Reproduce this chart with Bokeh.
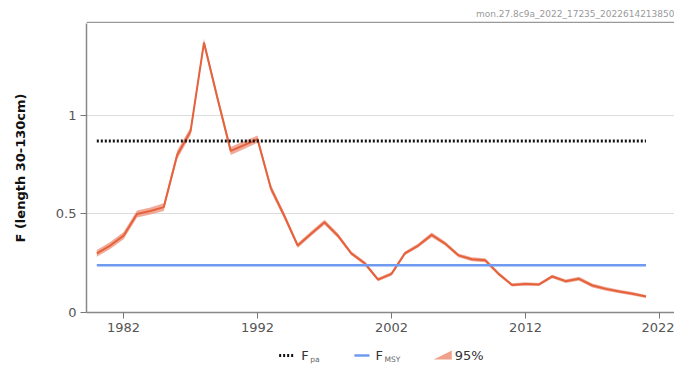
from bokeh.plotting import figure
from bokeh.models import Range1d, FixedTicker, ColumnDataSource
from bokeh.layouts import column
from bokeh.core.properties import value
from bokeh.embed import file_html
from bokeh.resources import INLINE

years = list(range(1980, 2022))
f_values = [0.30, 0.34, 0.39, 0.50, 0.515, 0.535, 0.80, 0.92, 1.37, 1.09,
            0.82, 0.85, 0.88, 0.63, 0.49, 0.34, 0.40, 0.458, 0.39, 0.30,
            0.25, 0.167, 0.196, 0.30, 0.34, 0.394, 0.35, 0.29, 0.27, 0.265,
            0.196, 0.14, 0.145, 0.142, 0.183, 0.159, 0.171, 0.137, 0.12, 0.107,
            0.095, 0.081]
f_low = [0.283, 0.322, 0.372, 0.482, 0.497, 0.515, 0.778, 0.9, 1.35, 1.07,
         0.80, 0.83, 0.862, 0.612, 0.474, 0.328, 0.388, 0.445, 0.378, 0.29,
         0.24, 0.158, 0.187, 0.29, 0.33, 0.382, 0.34, 0.28, 0.26, 0.255,
         0.187, 0.132, 0.137, 0.134, 0.174, 0.15, 0.161, 0.127, 0.11, 0.098,
         0.086, 0.073]
f_high = [0.317, 0.358, 0.408, 0.518, 0.533, 0.555, 0.822, 0.94, 1.39, 1.11,
          0.84, 0.87, 0.898, 0.648, 0.506, 0.352, 0.412, 0.471, 0.402, 0.31,
          0.26, 0.176, 0.205, 0.31, 0.35, 0.406, 0.36, 0.30, 0.28, 0.275,
          0.205, 0.148, 0.153, 0.15, 0.192, 0.168, 0.181, 0.147, 0.13, 0.116,
          0.104, 0.089]
f_pa = 0.87
f_msy = 0.24
x_ticks = [1982, 1992, 2002, 2012, 2022]
y_ticks = [0, 0.5, 1]
y_tick_labels = ["0", "0.5", "1"]
y_title = "F (length 30-130cm)"
watermark = "mon.27.8c9a_2022_17235_2022614213850"
legend_labels = ["F", "pa", "F", "MSY", "95%"]

FONT = "DejaVu Sans"
LINE_COLOR = "#E4623C"
BAND_COLOR = "#EE8F78"
BLUE = "#6E9AF0"
GRAY_TEXT = "#555555"

W = 674
H_TOP = 23
H_MAIN = 315
H_LEG = 366 - H_TOP - H_MAIN
FRAME_BOTTOM = 312 - H_TOP
# the column aligns every child's frame with the main plot's frame (86..672)
FRAME_L, FRAME_R = 86, 672


def blank_fig(h):
    f = figure(width=W, height=h, output_backend="svg", toolbar_location=None,
               x_range=Range1d(FRAME_L, FRAME_R), y_range=Range1d(h, 0),
               min_border=0, min_border_left=0, min_border_right=0,
               min_border_top=0, min_border_bottom=0)
    f.axis.visible = False
    f.grid.visible = False
    f.outline_line_color = None
    return f


# watermark strip, with the frame's top border at its bottom
top = blank_fig(H_TOP)
top.text(x=[FRAME_R], y=[13], text=[watermark], text_font=value(FONT),
         text_font_size=value("9px"), text_color="#9a9a9a",
         text_baseline="middle", text_align="right")
top.line(x=[FRAME_L, FRAME_R], y=[22, 22], line_color="#999999", line_width=1.5)

p = figure(width=W, height=H_MAIN, output_backend="svg", toolbar_location=None,
           x_range=Range1d(1979.23, 2023.13), y_range=Range1d(0, 1.467),
           min_border_left=FRAME_L, min_border_right=0, min_border_top=0,
           min_border_bottom=H_MAIN - FRAME_BOTTOM)
p.outline_line_color = None
p.background_fill_color = "white"
p.border_fill_color = "white"

p.xaxis.ticker = FixedTicker(ticks=x_ticks)
p.yaxis.ticker = FixedTicker(ticks=y_ticks)
p.yaxis.major_label_overrides = {t: l for t, l in zip(y_ticks, y_tick_labels)}
for ax in (p.xaxis[0], p.yaxis[0]):
    ax.axis_line_color = "#888888"
    ax.axis_line_width = 1.5
    ax.major_tick_line_color = "#777777"
    ax.major_tick_out = 6
    ax.major_tick_in = 0
    ax.minor_tick_line_color = None
    ax.major_label_text_font = FONT
    ax.major_label_text_font_size = "13px"
    ax.major_label_text_color = GRAY_TEXT
p.xaxis.major_label_standoff = 4
p.yaxis.major_label_standoff = 4
p.yaxis.axis_label = y_title
p.yaxis.axis_label_text_font = FONT
p.yaxis.axis_label_text_font_style = "bold"
p.yaxis.axis_label_text_font_size = "13px"
p.yaxis.axis_label_text_color = "#111111"
p.yaxis.axis_label_standoff = 25

p.xgrid.grid_line_color = None
p.ygrid.ticker = FixedTicker(ticks=[t for t in y_ticks if t > 0])
p.ygrid.grid_line_color = "#dddddd"
p.ygrid.grid_line_width = 1

src = ColumnDataSource(dict(year=years, f=f_values, lo=f_low, hi=f_high,
                            pa=[f_pa] * len(years), msy=[f_msy] * len(years)))
p.varea(x="year", y1="lo", y2="hi", source=src, fill_color=BAND_COLOR, fill_alpha=0.75)
p.line(x="year", y="f", source=src, line_color=LINE_COLOR, line_width=2)
p.line(x="year", y="pa", source=src, line_color="#111111", line_width=3, line_dash="2 2")
p.line(x="year", y="msy", source=src, line_color=BLUE, line_width=2.5)

lg = blank_fig(H_LEG)
ly = 17
lg.line(x=[278, 292], y=[ly, ly], line_color="#111111", line_width=3, line_dash="2 2")
lg.line(x=[353, 368], y=[ly, ly], line_color=BLUE, line_width=2.5)
lg.patch(x=[432, 450, 450], y=[ly + 4, ly - 5, ly + 4], fill_color=BAND_COLOR,
         fill_alpha=0.85, line_color=None)
lg.text(x=[300, 374, 453], y=[ly, ly, ly],
        text=[legend_labels[0], legend_labels[2], legend_labels[4]],
        text_font=value(FONT), text_font_size=value("13px"), text_color="#333333",
        text_baseline="middle")
lg.text(x=[309, 383], y=[ly + 4, ly + 4], text=[legend_labels[1], legend_labels[3]],
        text_font=value(FONT), text_font_size=value("7.5px"), text_color="#666666",
        text_baseline="middle")

layout = column(top, p, lg, spacing=0)
open("out.html", "w").write(file_html(layout, INLINE))
